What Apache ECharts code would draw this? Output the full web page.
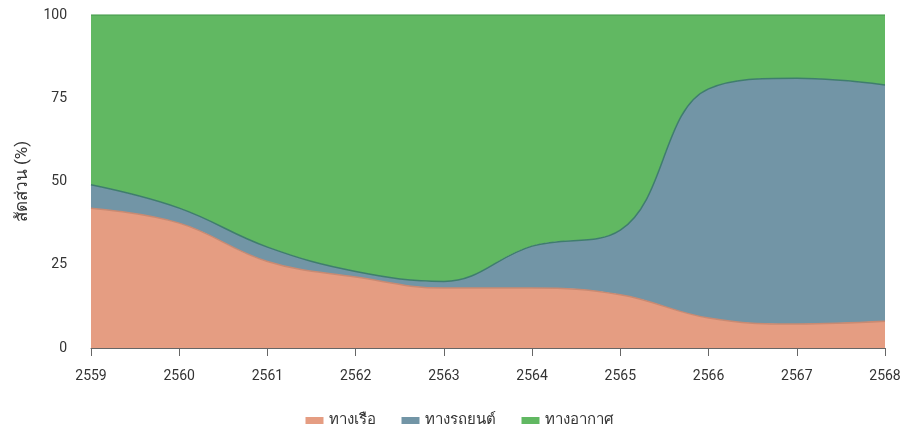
<!DOCTYPE html>
<html>
<head>
<meta charset="utf-8">
<script src="https://cdn.jsdelivr.net/npm/echarts@6/dist/echarts.min.js"></script>
<style>
  html, body { margin: 0; padding: 0; background: #fff; }
  #chart { width: 919px; height: 437px; }
</style>
</head>
<body>
<div id="chart"></div>
<script>
// ปี พ.ศ.
const years = ['2559', '2560', '2561', '2562', '2563', '2564', '2565', '2566', '2567', '2568'];

// สัดส่วน (%) แต่ละช่องทาง
const boat = [42, 37.5, 26, 21.3, 18, 18, 16, 9, 7.2, 8];
const road = [7, 4.5, 4.3, 1.7, 2, 12.6, 19.4, 68.8, 73.8, 71];
const air = [51, 58, 69.7, 77, 80, 69.4, 64.6, 22.2, 19, 21];

const seriesNames = ['ทางเรือ', 'ทางรถยนต์', 'ทางอากาศ'];
const fillColors = ['#e59d82', '#7295a6', '#61b862'];
const lineColors = ['#c98a72', '#3f7d6e', '#4ea154'];

const chart = echarts.init(document.getElementById('chart'));

function makeSeries(i, data) {
  return {
    name: seriesNames[i],
    type: 'line',
    stack: 'total',
    smooth: 0.4,
    symbol: 'none',
    data: data,
    lineStyle: { color: lineColors[i], width: 1.5 },
    itemStyle: { color: fillColors[i] },
    areaStyle: { color: fillColors[i], opacity: 1 }
  };
}

const option = {
  animation: false,
  textStyle: { fontFamily: 'Roboto, "Noto Sans", sans-serif' },
  grid: { left: 91, right: 34, top: 15, bottom: 89 },
  legend: {
    bottom: 4,
    itemWidth: 18,
    itemHeight: 7,
    itemGap: 26,
    icon: 'rect',
    textStyle: { fontSize: 15, color: '#333' },
    data: seriesNames
  },
  xAxis: {
    type: 'category',
    boundaryGap: false,
    data: years,
    axisLine: { lineStyle: { color: '#666' } },
    axisTick: { alignWithLabel: true, length: 8, lineStyle: { color: '#666' } },
    axisLabel: { color: '#333', fontSize: 14, margin: 21 }
  },
  yAxis: {
    type: 'value',
    min: 0,
    max: 100,
    interval: 25,
    name: 'สัดส่วน (%)',
    nameLocation: 'middle',
    nameGap: 60,
    nameTextStyle: { fontSize: 17, color: '#333' },
    axisLine: { show: false },
    axisTick: { show: false },
    axisLabel: { color: '#333', fontSize: 14, margin: 24 },
    splitLine: { lineStyle: { color: '#eee' } }
  },
  series: [
    makeSeries(0, boat),
    makeSeries(1, road),
    makeSeries(2, air)
  ]
};

chart.setOption(option);
</script>
</body>
</html>
